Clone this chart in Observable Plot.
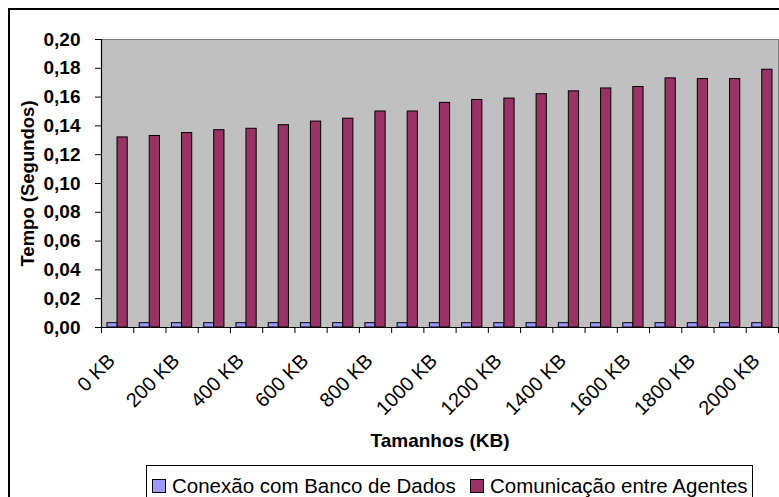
<!DOCTYPE html>
<html>
<head>
<meta charset="utf-8">
<script src="https://cdn.jsdelivr.net/npm/d3@7"></script>
<script src="https://cdn.jsdelivr.net/npm/@observablehq/plot@0.6"></script>
<style>
  html, body { margin: 0; padding: 0; background: #fff; }
  #wrap { position: relative; width: 779px; height: 497px; overflow: hidden; font-family: "Liberation Sans", Arial, sans-serif; }
  #chart { position: absolute; left: 0; top: 0; }
  #frame { position: absolute; left: 8px; top: 8px; width: 820px; height: 600px; border: 2px solid #000; box-sizing: border-box; pointer-events: none; }
  #legend { position: absolute; left: 146px; top: 465px; width: 607px; height: 60px; border: 1px solid #000; box-sizing: border-box; background: #fff; }
  .item { position: absolute; top: 8px; display: flex; align-items: center; font-size: 20.5px; color: #000; white-space: nowrap; }
  .sw { width: 12px; height: 12px; border: 1px solid #000; margin-right: 6px; }
</style>
</head>
<body>
<div id="wrap">
  <div id="chart"></div>
  <div id="frame"></div>
  <div id="legend"></div>
</div>
<script>
// Categories (KB sizes)
const sizes = [0, 100, 200, 300, 400, 500, 600, 700, 800, 900, 1000, 1100, 1200, 1300, 1400, 1500, 1600, 1700, 1800, 1900, 2000];
const step = 100;
// Series values (seconds)
const conexao = [0.003, 0.003, 0.003, 0.003, 0.003, 0.003, 0.003, 0.003, 0.003, 0.003, 0.003, 0.003, 0.003, 0.003, 0.003, 0.003, 0.003, 0.003, 0.003, 0.003, 0.003];
const comunicacao = [0.132, 0.133, 0.135, 0.137, 0.138, 0.1405, 0.143, 0.145, 0.150, 0.150, 0.156, 0.158, 0.159, 0.162, 0.164, 0.166, 0.167, 0.173, 0.1725, 0.1725, 0.179];
// Tick labels
const labelSizes = [0, 200, 400, 600, 800, 1000, 1200, 1400, 1600, 1800, 2000];
const tickLabels = ["0 KB", "200 KB", "400 KB", "600 KB", "800 KB", "1000 KB", "1200 KB", "1400 KB", "1600 KB", "1800 KB", "2000 KB"];
const yTicks = [0, 0.02, 0.04, 0.06, 0.08, 0.10, 0.12, 0.14, 0.16, 0.18, 0.20];
const seriesNames = ["Conexão com Banco de Dados", "Comunicação entre Agentes"];
const seriesColors = ["#9999FF", "#993366"];
const xTitle = "Tamanhos (KB)";
const yTitle = "Tempo (Segundos)";

const data = sizes.map((s, i) => ({size: s, conexao: conexao[i], comunicacao: comunicacao[i]}));
const boundaries = sizes.concat([sizes[sizes.length - 1] + step]);

const chart = Plot.plot({
  width: 779,
  height: 497,
  marginLeft: 101,
  marginRight: 1,
  marginTop: 39,
  marginBottom: 170,
  style: {fontFamily: "Liberation Sans, Arial, sans-serif", background: "transparent", color: "#000"},
  x: {domain: [sizes[0], sizes[sizes.length - 1] + step]},
  y: {domain: [0, 0.2]},
  marks: [
    Plot.frame({fill: "#C0C0C0", stroke: "#808080"}),
    Plot.rect(data, {x1: "size", x2: d => d.size + step, y1: 0, y2: "conexao", fill: seriesColors[0], stroke: "#000", strokeWidth: 1, insetLeft: 6, insetRight: 16}),
    Plot.rect(data, {x1: "size", x2: d => d.size + step, y1: 0, y2: "comunicacao", fill: seriesColors[1], stroke: "#000", strokeWidth: 1, insetLeft: 16, insetRight: 6}),
    Plot.ruleX([sizes[0]], {stroke: "#000", strokeWidth: 1.2}),
    Plot.ruleY([0], {stroke: "#000", strokeWidth: 1.2}),
    Plot.axisY(yTicks, {tickSize: 6, tickPadding: 15, tickFormat: d => d.toFixed(2).replace(".", ","), fontSize: 19, fontWeight: "bold", label: null, stroke: "#000"}),
    Plot.axisX(boundaries, {tickSize: 6, tickFormat: () => "", label: null, stroke: "#000"}),
    Plot.text(tickLabels, {x: (d, i) => labelSizes[i] + step / 2, frameAnchor: "bottom", rotate: -45, textAnchor: "end", lineAnchor: "middle", dx: -6, dy: 30, fontSize: 20, fill: "#000"}),
    Plot.text([yTitle], {frameAnchor: "left", textAnchor: "middle", lineAnchor: "middle", dx: -73, rotate: -90, fontSize: 18.5, fontWeight: "bold", fill: "#000"}),
    Plot.text([xTitle], {frameAnchor: "bottom", textAnchor: "middle", lineAnchor: "middle", dy: 113, fontSize: 19, fontWeight: "bold", fill: "#000"})
  ]
});
document.getElementById("chart").appendChild(chart);

// Legend
const legend = document.getElementById("legend");
const lefts = [5, 323];
seriesNames.forEach((name, i) => {
  const item = document.createElement("div");
  item.className = "item";
  item.style.left = lefts[i] + "px";
  const sw = document.createElement("div");
  sw.className = "sw";
  sw.style.background = seriesColors[i];
  const t = document.createElement("span");
  t.textContent = name;
  item.appendChild(sw);
  item.appendChild(t);
  legend.appendChild(item);
});
</script>
</body>
</html>
